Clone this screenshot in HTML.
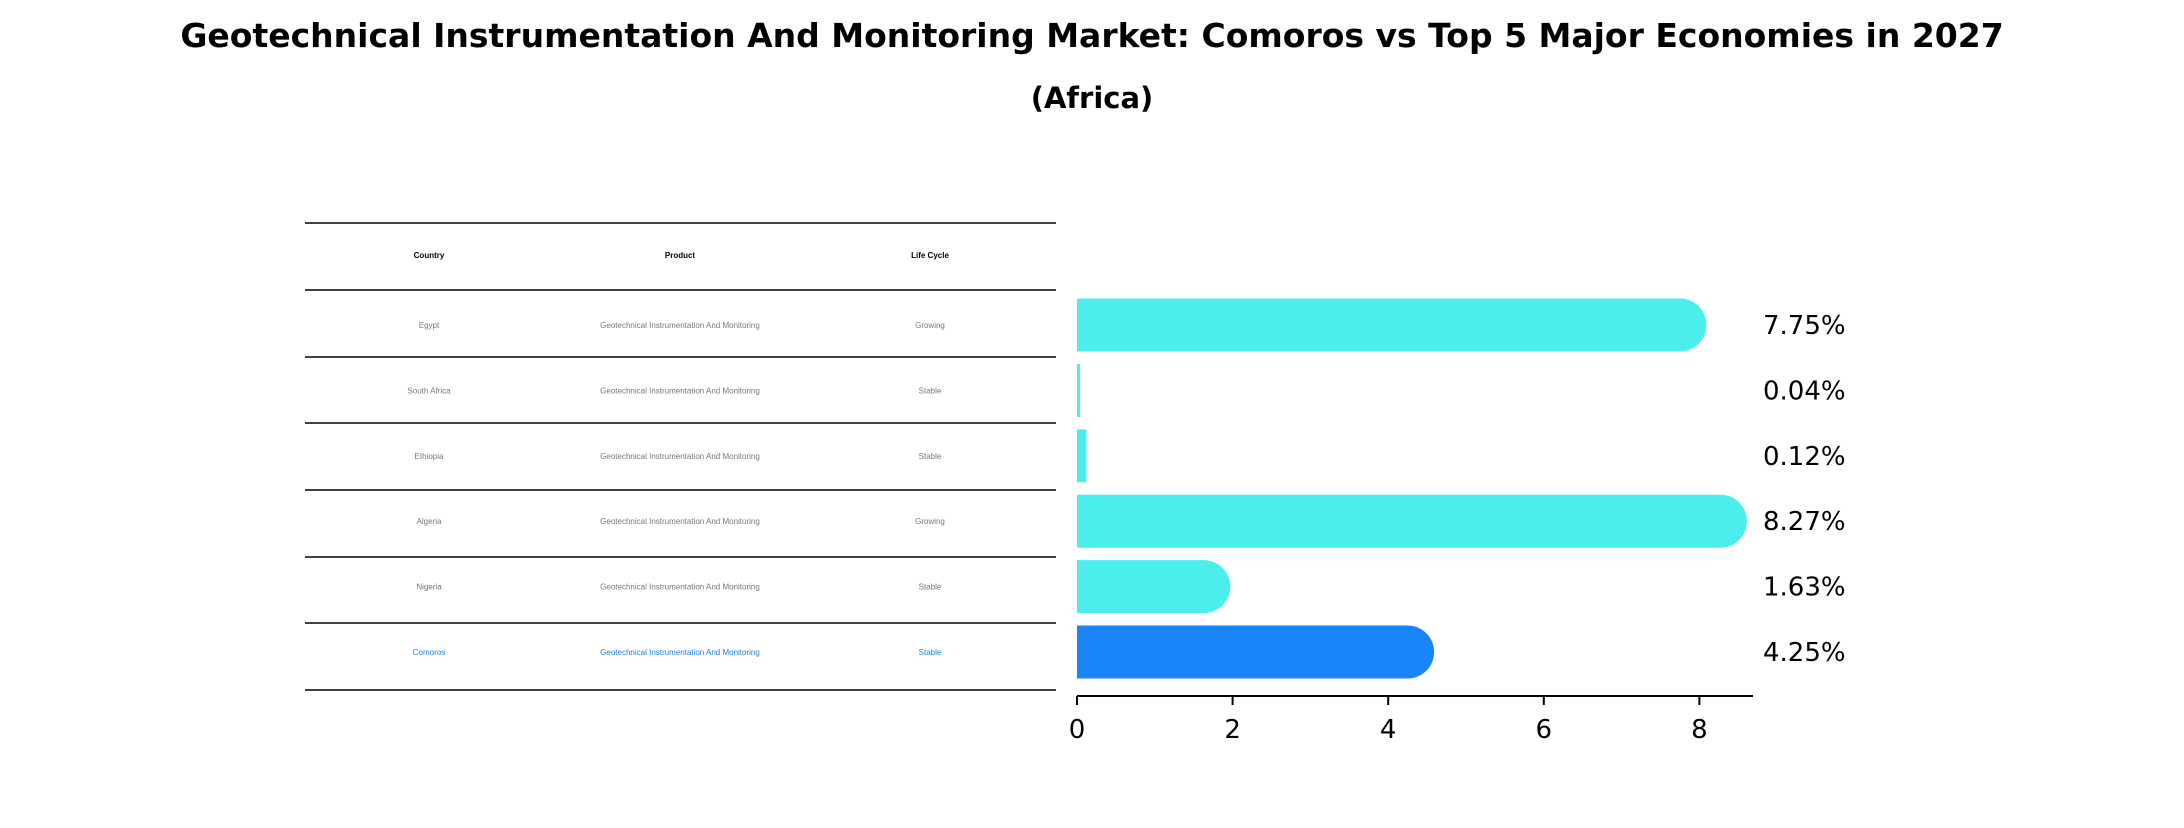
<!DOCTYPE html>
<html><head><meta charset="utf-8"><style>
body{margin:0;background:#fff;width:2184px;height:823px;overflow:hidden;font-family:"Liberation Sans","DejaVu Sans",sans-serif}
</style></head><body>
<svg width="2184" height="823" xmlns="http://www.w3.org/2000/svg">
<text x="1092" y="47" text-anchor="middle" font-size="33" font-weight="bold" font-family="DejaVu Sans, Liberation Sans, sans-serif">Geotechnical Instrumentation And Monitoring Market: Comoros vs Top 5 Major Economies in 2027</text>
<text x="1092" y="108" text-anchor="middle" font-size="29" font-weight="bold" font-family="DejaVu Sans, Liberation Sans, sans-serif">(Africa)</text>
<g id="table"></g>
<g id="bars"></g>
</svg>
<script>
const countries=["Egypt","South Africa","Ethiopia","Algeria","Nigeria","Comoros"];
const lifeCycles=["Growing","Stable","Stable","Growing","Stable","Stable"];
const values=[7.75,0.04,0.12,8.27,1.63,4.25];
const ticks=[0,2,4,6,8];
const NS="http://www.w3.org/2000/svg";
function mk(tag,attrs,parent,text){const e=document.createElementNS(NS,tag);for(const k in attrs)e.setAttribute(k,attrs[k]);if(text!==undefined)e.textContent=text;parent.appendChild(e);return e;}
const x=v=>1077+v*77.8;
const rowY=i=>325+i*65.4;
const tb=document.getElementById('table');
const lineYs=[223,290,357,423,490,557,623,690];
lineYs.forEach(y=>{const l=mk('line',{x1:305,x2:1056,y1:y,y2:y,stroke:'#000','stroke-width':1.4},tb);

});
const cols=[429,680,930];
["Country","Product","Life Cycle"].forEach((h,j)=>{const t=mk('text',{x:cols[j],y:258,'text-anchor':'middle','font-size':8,'font-weight':'bold'},tb,h);

});
countries.forEach((c,i)=>{const y=rowY(i)+3;const col=i===5?'#1a85e0':'#777';
[c,"Geotechnical Instrumentation And Monitoring",lifeCycles[i]].forEach((s,j)=>{const t=mk('text',{x:cols[j],y:y,'text-anchor':'middle','font-size':8,fill:col},tb,s);

});});
const bg=document.getElementById('bars');
const h=53,r=26.5;
values.forEach((v,i)=>{const cy=rowY(i);const w=x(v)-x(0);const col=i===5?'#1a85f8':'#4beeea';
let el;
if(w>r){el=mk('path',{d:`M${x(0)},${cy-h/2} H${x(v)} A${r},${r} 0 0 1 ${x(v)},${cy+h/2} H${x(0)} Z`,fill:col},bg);}
else{el=mk('rect',{x:x(0),y:cy-h/2,width:Math.max(w,2),height:h,fill:col},bg);}


const t=mk('text',{x:1763,y:cy+9,'font-size':26,'font-family':'DejaVu Sans, Liberation Sans, sans-serif'},bg,v.toFixed(2)+'%');

});
const ax=mk('line',{x1:1077,x2:1753,y1:696,y2:696,stroke:'#000','stroke-width':2},bg);


ticks.forEach(tv=>{const tk=mk('line',{x1:x(tv),x2:x(tv),y1:696,y2:705,stroke:'#000','stroke-width':2},bg);


const t=mk('text',{x:x(tv),y:738,'text-anchor':'middle','font-size':26,'font-family':'DejaVu Sans, Liberation Sans, sans-serif'},bg,String(tv));

});
</script>
</body></html>
